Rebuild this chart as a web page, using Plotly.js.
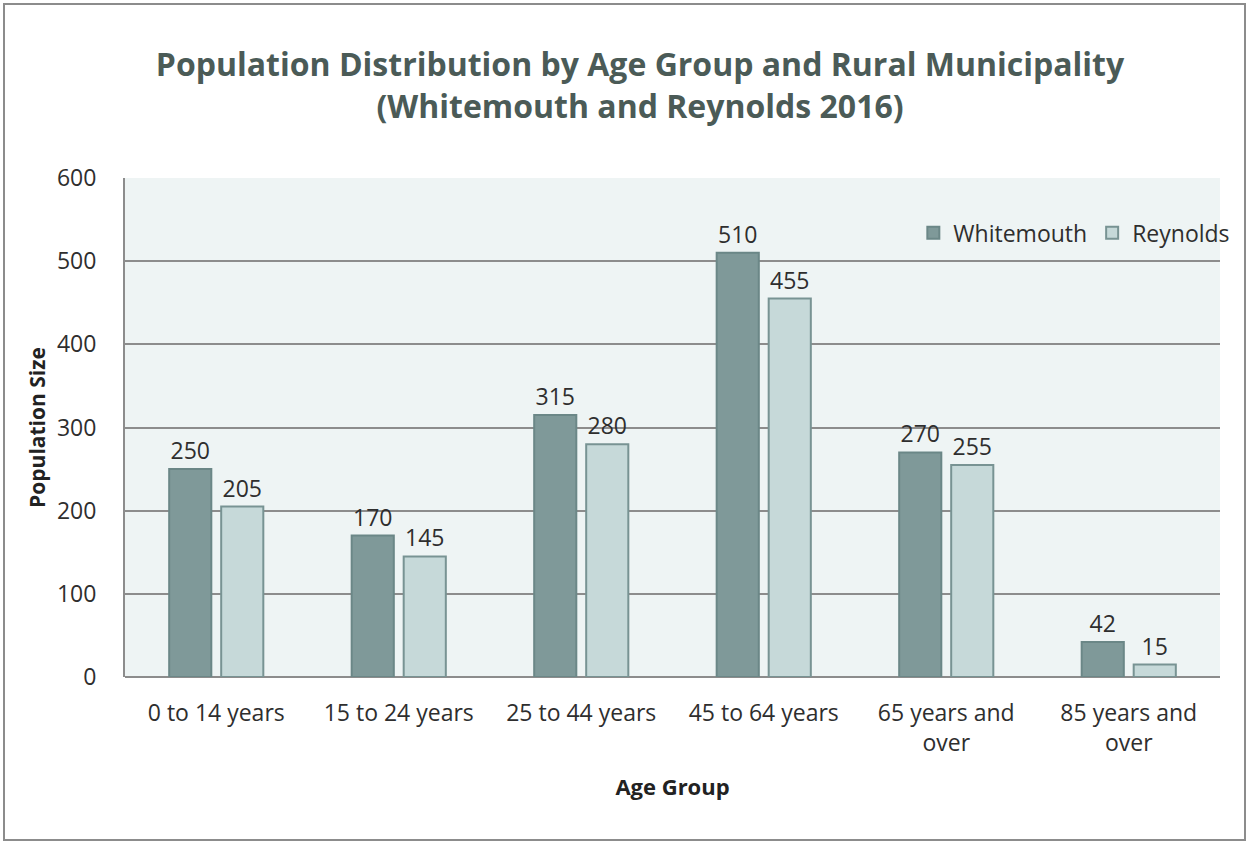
<!DOCTYPE html>
<html>
<head>
<meta charset="utf-8">
<script src="https://cdn.plot.ly/plotly-3.0.1.min.js"></script>
<style>
html,body{margin:0;padding:0;background:#fff;}
#chart{width:1250px;height:844px;}
</style>
</head>
<body>
<div id="chart"></div>
<script>
const categories = ["0 to 14 years", "15 to 24 years", "25 to 44 years", "45 to 64 years", "65 years and<br>over", "85 years and<br>over"];
const whitemouth = [250, 170, 315, 510, 270, 42];
const reynolds = [205, 145, 280, 455, 255, 15];
const seriesNames = ["Whitemouth", "Reynolds"];
const yTicks = [0, 100, 200, 300, 400, 500, 600];

const FONT = "Open Sans, Calibri, sans-serif";
const labelFont = {family: FONT, size: 23, color: "#2E2E2E"};

const traces = [
  {
    type: "bar", name: seriesNames[0], x: categories, y: whitemouth,
    marker: {color: "#7F9999", line: {color: "#6B8787", width: 2}},
    text: whitemouth.map(String), textposition: "outside", cliponaxis: false,
    textfont: labelFont
  },
  {
    type: "bar", name: seriesNames[1], x: categories, y: reynolds,
    marker: {color: "#C6D9D9", line: {color: "#789393", width: 2}},
    text: reynolds.map(String), textposition: "outside", cliponaxis: false,
    textfont: labelFont
  }
];

const layout = {
  width: 1250, height: 844,
  margin: {l: 125, r: 30, t: 178, b: 167},
  paper_bgcolor: "#ffffff",
  plot_bgcolor: "#EEF4F4",
  barmode: "group",
  bargap: 0.43,
  bargroupgap: 0.19,
  showlegend: true,
  title: {
    text: "Population Distribution by Age Group and Rural Municipality<br>(Whitemouth and Reynolds 2016)",
    font: {family: FONT, size: 32, color: "#4B5B57", weight: "bold"},
    x: 0.512, xanchor: "center", y: 0.91, yanchor: "middle"
  },
  font: labelFont,
  legend: {
    orientation: "h", x: 1.014, xanchor: "right", y: 0.89, yanchor: "middle",
    bgcolor: "rgba(0,0,0,0)", font: labelFont, traceorder: "normal",
    itemwidth: 30
  },
  xaxis: {
    tickfont: labelFont,
    showline: false, ticks: "",
    ticklabelstandoff: 20,
    title: {text: "Age Group", font: {family: FONT, size: 22, color: "#222", weight: "bold"}, standoff: 22}
  },
  yaxis: {
    range: [0, 600], tickvals: yTicks,
    tickfont: labelFont,
    showgrid: true, gridcolor: "#8C8C8C", gridwidth: 2,
    zeroline: true, zerolinecolor: "#8C8C8C", zerolinewidth: 2,
    showline: true, linecolor: "#8C8C8C", linewidth: 2,
    ticks: "", ticklabelstandoff: 22,
    title: {text: "Population Size", font: {family: FONT, size: 21, color: "#222", weight: "bold"}, standoff: 6}
  },
  shapes: [
    {type: "rect", xref: "paper", yref: "paper",
     x0: (4 - 125) / 1095, x1: (1245 - 125) / 1095,
     y0: (844 - 840 - 167) / 499, y1: (844 - 4 - 167) / 499,
     line: {color: "#8C8C8C", width: 2}, fillcolor: "rgba(0,0,0,0)", layer: "below"}
  ]
};

Plotly.newPlot("chart", traces, layout, {displayModeBar: false, staticPlot: true});
</script>
</body>
</html>
